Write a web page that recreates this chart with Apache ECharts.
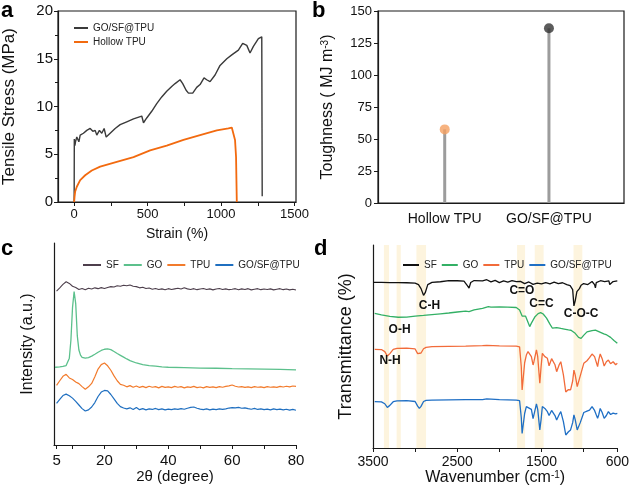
<!DOCTYPE html>
<html><head><meta charset="utf-8">
<script src="https://cdn.jsdelivr.net/npm/echarts@6/dist/echarts.min.js"></script>
<style>html,body{margin:0;padding:0;background:#fff}#c{width:632px;height:488px}</style>
</head><body><div id="c"></div>
<script>
// ---- Panel a: tensile stress-strain ----
const goStrain = [0,1,5,9,18,32,41,63,86,109,127,143,154,172,188,204,218,245,279,313,358,404,460,472,494,528,562,596,630,664,687,721,739,762,778,807,834,857,884,902,925,959,993,1039,1073,1118,1147,1175,1197,1220,1254,1277,1280];
const goStress = [0,6.6,5.9,6.3,6.8,6.3,7.0,7.2,7.5,7.7,7.4,7.5,7.0,7.5,7.2,7.7,6.8,7.2,7.7,8.1,8.4,8.7,9.0,8.3,8.8,9.5,10.3,11.0,11.6,12.1,12.4,12.8,12.4,11.7,11.4,11.4,12.0,12.3,13.0,12.8,12.6,13.3,14.3,15.0,15.4,15.9,16.6,16.4,15.6,16.3,17.1,17.3,0.6];
const hollowStrain = [0,3,7,18,41,75,120,177,290,404,517,630,744,857,971,1050,1073,1084,1095,1102,1107];
const hollowStress = [0,0.6,1.1,1.6,2.3,2.8,3.3,3.7,4.2,4.7,5.4,5.9,6.5,7.0,7.5,7.7,7.8,7.7,6.5,4.7,0];
const strainLabels = [0,500,1000,1500];
const strainTicks = [0,250,500,750,1000,1250,1500];

// ---- Panel b: toughness ----
const toughCats = ['Hollow TPU','GO/SF@TPU'];
const toughness = [57.5,136.5];

// ---- Panel c: XRD ----
const xrdAngle = [5,6,7,8,9,10,11,12,13,14,15,16,17,18,19,20,21,22,23,24,25,26,27,28,29,30,31,32,33,34,35,36,37,38,39,40,41,42,43,44,45,46,47,48,49,50,51,52,53,54,55,56,57,58,59,60,61,62,63,64,65,66,67,68,69,70,71,72,73,74,75,76,77,78,79,80];
const sfXrd = [76.2,77.8,79.5,80.8,80.0,78.6,78.0,77.0,77.5,76.9,77.6,77.2,77.8,77.4,77.9,77.5,78.0,78.4,78.2,78.8,78.6,79.1,78.8,79.2,78.6,78.4,77.8,78.1,77.5,77.7,77.1,77.5,77.0,77.3,76.9,77.4,77.0,77.3,77.6,77.2,77.8,77.3,77.0,77.4,76.9,77.2,77.5,77.0,77.3,76.8,77.2,77.5,77.0,77.3,76.9,77.1,77.4,76.9,77.3,77.0,77.4,76.8,77.1,77.4,76.9,77.2,77.0,77.3,76.8,77.1,77.4,76.9,77.2,76.8,77.1,76.7];
const tpuXrd = [29.5,31.8,34.0,35.0,33.2,32.4,31.2,30.4,28.9,27.6,28.8,30.5,33.8,37.6,39.8,40.6,39.2,37.0,34.2,31.8,30.0,29.6,28.8,29.4,28.6,29.2,28.5,29.0,28.4,29.1,28.6,28.9,28.3,29.0,28.5,28.8,28.4,29.0,28.6,28.9,28.3,28.8,28.5,29.0,28.4,28.7,28.3,28.9,28.5,28.8,28.4,28.9,28.6,29.0,29.3,29.7,29.1,28.7,28.9,28.5,28.8,28.4,28.9,28.6,28.8,28.4,28.9,28.6,28.8,28.5,29.0,28.7,29.1,28.8,29.2,29.0];
const compXrd = [20.6,22.6,24.5,25.2,24.4,23.2,21.6,19.8,18.0,16.8,17.4,18.8,21.0,24.0,26.2,27.0,26.8,25.0,22.8,20.6,19.0,18.3,17.9,18.4,17.6,18.6,17.5,18.0,17.4,17.9,17.6,18.1,17.5,17.9,17.4,17.8,17.5,17.9,17.6,18.0,17.7,18.2,18.6,18.8,18.2,17.8,17.5,17.9,17.4,17.8,17.5,17.9,17.6,17.9,18.3,18.5,18.4,18.6,18.2,18.4,18.0,17.7,18.1,17.6,17.9,17.5,17.8,17.4,17.9,17.5,17.8,17.4,17.7,17.3,17.6,17.2];
const goAngle = [4.5,5,6,7,8,8.5,9,9.5,10,10.5,11,11.5,12,12.5,13,14,15,16,17,18,19,20,21,22,23,24,25,26,27,28,30,32,34,36,38,40,45,50,55,60,65,70,75,80];
const goXrd = [38.5,38.6,38.7,38.9,39.3,40,43,52,68,76,70,54,47,44.5,43.4,43.0,43.3,44.0,44.9,45.9,46.8,47.4,47.6,47.2,46.3,45.3,44.4,43.5,42.6,41.8,40.6,39.8,39.3,39.0,38.7,38.5,38.3,38.1,38.0,37.8,37.7,37.6,37.4,37.2];
const angleLabels = [5,20,40,60,80];
const angleTicks = [5,10,20,30,40,50,60,70,80];

// ---- Panel d: FTIR ----
const sfWn = [3500,3400,3300,3200,3100,3000,2960,2930,2900,2880,2850,2800,2700,2600,2500,2420,2380,2360,2340,2300,2200,2150,2100,2050,2000,1950,1900,1850,1800,1750,1700,1650,1600,1550,1500,1450,1400,1350,1300,1250,1200,1160,1130,1115,1100,1080,1050,1030,1000,950,900,870,860,850,800,750,700,690,680,650,600];
const sfFtir = [81.6,81.6,81.5,81.5,81.4,81.2,80.5,78.5,75.2,76.5,80.5,81.6,81.9,82.4,82.4,82.2,80.0,78.8,81.5,82.5,82.3,82.9,81.8,82.6,81.5,82.3,81.7,82.4,82.0,82.1,81.0,81.8,80.6,81.2,80.8,81.5,80.9,81.7,81.0,81.4,80.5,80.0,78.0,70.0,72.5,77.0,78.5,80.2,81.0,80.5,82.0,80.5,78.9,81.5,82.4,82.0,82.3,80.5,79.8,82.0,82.3];
const goWn = [3480,3400,3300,3200,3100,3000,2900,2800,2700,2600,2500,2400,2360,2340,2300,2200,2130,2100,2000,1900,1800,1760,1730,1710,1690,1670,1640,1620,1580,1540,1510,1480,1440,1400,1370,1320,1270,1230,1180,1150,1100,1060,1030,1000,960,940,900,860,840,800,760,725,680,640,600];
const goFtir = [66.3,65.6,64.8,64.4,64.5,65.0,65.3,65.7,66.1,66.5,67.0,67.4,67.2,67.9,68.0,68.8,69.6,69.4,69.5,69.4,69.2,68.0,65.0,64.3,65.0,64.5,59.8,61.5,64.5,66.2,66.7,66.0,64.0,61.0,59.0,59.3,58.9,58.6,58.2,58.0,56.5,54.5,54.0,55.5,57.2,57.3,57.8,58.1,58.0,57.0,56.2,55.7,54.5,53.0,51.6];
const tpuWn = [3480,3400,3360,3330,3300,3260,3215,3100,3000,2970,2950,2930,2900,2870,2800,2600,2400,2200,2150,2000,1800,1760,1740,1730,1720,1700,1680,1660,1620,1600,1590,1560,1545,1520,1505,1490,1460,1430,1410,1380,1340,1320,1290,1271,1240,1212,1200,1180,1155,1130,1115,1100,1076,1060,1040,998,960,930,900,870,834,820,803,780,756,730,706,680,650,620,600];
const tpuFtir = [48.6,48.5,47.5,45.3,46.5,48.6,49.1,49.2,48.8,46.5,45.8,46.8,48.9,49.6,49.9,50.1,50.2,50.4,50.6,50.3,50.2,49.8,40.0,28.6,29.5,42.0,45.8,47.5,45.0,40.9,42.5,48.3,45.0,31.9,40.0,46.6,45.0,44.2,40.5,44.0,41.0,37.6,41.0,42.5,36.0,27.6,27.0,28.8,28.6,33.0,38.4,36.0,30.2,31.0,35.5,41.7,43.0,44.5,46.3,45.0,40.1,43.5,46.3,44.0,40.4,42.5,43.3,41.5,42.5,41.0,41.7];
const compFtir = [22.8,22.7,21.8,20.0,21.0,22.8,23.2,23.3,22.9,20.6,19.5,20.5,22.9,23.5,23.6,23.7,23.8,23.8,24.2,23.8,23.6,23.3,15.0,7.2,8.0,17.0,20.4,21.2,19.0,14.5,13.8,21.7,19.0,8.9,14.0,20.4,19.5,17.9,16.0,18.5,16.0,13.8,16.5,17.9,13.0,6.4,7.0,8.0,8.9,12.5,16.3,14.0,8.9,9.5,12.5,17.5,18.2,18.7,20.4,18.5,14.6,16.5,19.5,17.5,14.6,16.0,17.9,16.5,17.2,16.8,17.1];
const wnLabels = [3500,2500,1500,600];
const wnTicks = [3500,3000,2500,2000,1500,1000,600];
const bands = [[3370,3310],[3220,3170],[2985,2870],[1790,1695],[1580,1475],[1120,1015]];
const bandNames = ['C-H','O-H','N-H','C=O','C=C','C-O-C'];
const bandNameAt = [[2829,70.0],[3184,58.1],[3297,43.2],[1732,77.5],[1501,70.9],[1029,66.0]];

const zip = (a,b) => a.map((v,i)=>[v,b[i]]);
const F = 'Liberation Sans, Arial, Helvetica, sans-serif';
const K = '#1a1a1a';
const plain = v => String(v);
const axLine = {onZero:false, lineStyle:{color:K, width:1.2}};

const chart = echarts.init(document.getElementById('c'), null, {renderer:'canvas'});
const lineS = (name, xi, data, color, w) => ({type:'line', name, xAxisIndex:xi, yAxisIndex:xi, data, symbol:'none', lineStyle:{color, width:w}, itemStyle:{color}, animation:false});

const option = {
  animation:false,
  textStyle:{fontFamily:F},
  graphic:[
    {type:'text', left:1, top:0, style:{text:'a', font:'bold 22px '+F, fill:'#000'}},
    {type:'text', left:312, top:0, style:{text:'b', font:'bold 22px '+F, fill:'#000'}},
    {type:'text', left:1, top:238, style:{text:'c', font:'bold 22px '+F, fill:'#000'}},
    {type:'text', left:314, top:238, style:{text:'d', font:'bold 22px '+F, fill:'#000'}}
  ],
  grid:[
    {left:58, top:11, width:238, height:191, show:true, borderColor:K, borderWidth:1.2},
    {left:378, top:11, width:246, height:192, show:true, borderColor:K, borderWidth:1.2},
    {left:54, top:243, width:242, height:202},
    {left:373, top:245, width:248, height:203}
  ],
  legend:[
    {orient:'vertical', left:69, top:18, icon:'rect', itemWidth:14, itemHeight:2, itemGap:4, selectedMode:false,
     textStyle:{fontSize:10, color:'#222', fontFamily:F},
     data:[{name:'GO/SF@TPU', itemStyle:{color:'#3a3a3a'}},{name:'Hollow TPU', itemStyle:{color:'#f26a0f'}}]},
    {left:78, top:255, icon:'rect', itemWidth:18, itemHeight:2, itemGap:5, selectedMode:false,
     textStyle:{fontSize:10, color:'#222', fontFamily:F},
     data:[{name:'SF', itemStyle:{color:'#4d3f4c'}},{name:'GO', itemStyle:{color:'#5cc08c'}},{name:'TPU', itemStyle:{color:'#f27b2c'}},{name:'GO/SF@TPU', itemStyle:{color:'#1f6fc0'}}]},
    {left:398, top:255, icon:'rect', itemWidth:16, itemHeight:2, itemGap:5, selectedMode:false,
     textStyle:{fontSize:10, color:'#222', fontFamily:F},
     data:[{name:'SF', itemStyle:{color:'#111111'}},{name:'GO', itemStyle:{color:'#33b065'}},{name:'TPU', itemStyle:{color:'#f26b3a'}},{name:'GO/SF@TPU', itemStyle:{color:'#1f6fc5'}}]}
  ],
  xAxis:[
    {gridIndex:0, type:'value', min:-110, max:1510, name:'Strain (%)', nameLocation:'middle', nameGap:25,
     nameTextStyle:{fontSize:14, color:'#111', fontFamily:F}, axisLine:axLine,
     axisTick:{show:true, length:4, customValues:strainTicks, lineStyle:{color:K}},
     axisLabel:{customValues:strainLabels, formatter:plain, fontSize:13, color:'#111', margin:6, fontFamily:F}, splitLine:{show:false}},
    {gridIndex:1, type:'value', min:0.36, max:2.72, axisLine:axLine, axisTick:{show:false},
     axisLabel:{customValues:toughCats.map((c,i)=>i+1), formatter:v=>toughCats[Math.round(v)-1], fontSize:14, color:'#111', margin:9, fontFamily:F},
     splitLine:{show:false}},
    {gridIndex:2, type:'value', min:4.2, max:80, name:'2θ (degree)', nameLocation:'middle', nameGap:22,
     nameTextStyle:{fontSize:15, color:'#111', fontFamily:F}, axisLine:axLine,
     axisTick:{show:true, length:4, customValues:angleTicks, lineStyle:{color:K}},
     axisLabel:{customValues:angleLabels, formatter:plain, fontSize:15, color:'#111', margin:8, fontFamily:F}, splitLine:{show:false}},
    {gridIndex:3, type:'value', min:600, max:3500, inverse:true, name:'Wavenumber (cm{s|-1})', nameLocation:'middle', nameGap:19,
     nameTextStyle:{fontSize:16, color:'#111', fontFamily:F, rich:{s:{fontSize:10, verticalAlign:'top', padding:[0,0,6,0], color:'#111'}}}, axisLine:axLine,
     axisTick:{show:true, length:4, customValues:wnTicks, lineStyle:{color:K}},
     axisLabel:{customValues:wnLabels, formatter:plain, fontSize:14, color:'#111', margin:7, fontFamily:F}, splitLine:{show:false}}
  ],
  yAxis:[
    {gridIndex:0, type:'value', min:0, max:20, interval:5, name:'Tensile Stress (MPa)', nameLocation:'middle', nameGap:40,
     nameTextStyle:{fontSize:17, color:'#111', fontFamily:F}, axisLine:axLine,
     axisTick:{show:true, length:4, lineStyle:{color:K}}, minorTick:{show:true, splitNumber:2, length:3, lineStyle:{color:K}},
     axisLabel:{fontSize:15, color:'#111', margin:5, fontFamily:F}, splitLine:{show:false}},
    {gridIndex:1, type:'value', min:0, max:150, interval:25, name:'Toughness ( MJ m{s|-3})', nameLocation:'middle', nameGap:42,
     nameTextStyle:{fontSize:16, color:'#111', fontFamily:F, rich:{s:{fontSize:10, verticalAlign:'top', padding:[0,0,6,0], color:'#111'}}}, axisLine:axLine,
     axisTick:{show:true, length:4, lineStyle:{color:K}},
     axisLabel:{fontSize:13, color:'#111', margin:6, fontFamily:F}, splitLine:{show:false}},
    {gridIndex:2, type:'value', min:0, max:100, name:'Intensity (a.u.)', nameLocation:'middle', nameGap:18,
     nameTextStyle:{fontSize:16, color:'#111', fontFamily:F}, axisLine:axLine,
     axisTick:{show:false}, axisLabel:{show:false}, splitLine:{show:false}},
    {gridIndex:3, type:'value', min:0, max:100, name:'Transmittance (%)', nameLocation:'middle', nameGap:18,
     nameTextStyle:{fontSize:18, color:'#111', fontFamily:F}, axisLine:axLine,
     axisTick:{show:false}, axisLabel:{show:false}, splitLine:{show:false}}
  ],
  series:[
    lineS('GO/SF@TPU', 0, zip(goStrain, goStress), '#3a3a3a', 1.4),
    lineS('Hollow TPU', 0, zip(hollowStrain, hollowStress), '#f26a0f', 1.8),
    {type:'bar', xAxisIndex:1, yAxisIndex:1, barWidth:3, data:zip(toughCats.map((c,i)=>i+1), toughness), itemStyle:{color:'#9c9c9c'}, animation:false, z:1},
    {type:'scatter', xAxisIndex:1, yAxisIndex:1, symbolSize:10, z:3, animation:false,
     data:zip(toughCats.map((c,i)=>i+1), toughness).map((d,i)=>({value:d, itemStyle:{color:['#f5a060','#333333'][i]}}))},
    lineS('SF', 2, zip(xrdAngle, sfXrd), '#4d3f4c', 1.1),
    lineS('GO', 2, zip(goAngle, goXrd), '#5cc08c', 1.3),
    lineS('TPU', 2, zip(xrdAngle, tpuXrd), '#f27b2c', 1.2),
    lineS('GO/SF@TPU', 2, zip(xrdAngle, compXrd), '#1f6fc0', 1.2),
    Object.assign(lineS('SF', 3, zip(sfWn, sfFtir), '#111111', 1.3), {
      markArea:{silent:true, itemStyle:{color:'rgba(252,236,200,0.6)'}, data:bands.map(b=>[{xAxis:b[0]},{xAxis:b[1]}])}
    }),
    lineS('GO', 3, zip(goWn, goFtir), '#33b065', 1.3),
    lineS('TPU', 3, zip(tpuWn, tpuFtir), '#f26b3a', 1.3),
    Object.assign(lineS('GO/SF@TPU', 3, zip(tpuWn, compFtir), '#1f6fc5', 1.3), {
      markPoint:{silent:true, symbol:'circle', symbolSize:1, itemStyle:{color:'rgba(0,0,0,0)'},
        label:{show:true, position:'inside', color:'#111', fontWeight:'bold', fontSize:12, fontFamily:F, formatter:p=>p.name},
        data:bandNames.map((n,i)=>({name:n, coord:bandNameAt[i]}))}
    })
  ]
};
chart.setOption(option);
</script></body></html>
